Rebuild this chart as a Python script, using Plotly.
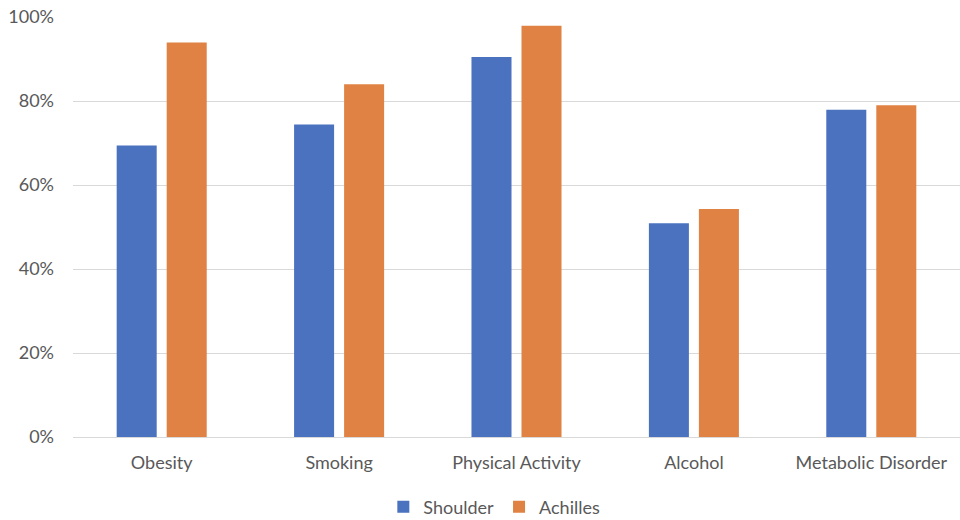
import plotly.graph_objects as go

categories = ["Obesity", "Smoking", "Physical Activity", "Alcohol", "Metabolic Disorder"]
shoulder = [69.4, 74.4, 90.5, 50.9, 77.9]
achilles = [93.9, 84.0, 97.9, 54.3, 79.0]
y_ticks = [0, 20, 40, 60, 80, 100]
y_tick_labels = [f"{v}%" for v in y_ticks]

font = "Lato, 'Open Sans', sans-serif"
fig = go.Figure()
fig.add_trace(go.Bar(x=categories, y=shoulder, name="Shoulder",
                     marker=dict(color="#4A72BF", line=dict(width=0))))
fig.add_trace(go.Bar(x=categories, y=achilles, name="Achilles",
                     marker=dict(color="#DF8243", line=dict(width=0))))

fig.update_layout(
    width=960, height=520,
    margin=dict(l=73, r=0, t=17, b=83, autoexpand=False),
    paper_bgcolor="white", plot_bgcolor="white",
    barmode="group", bargap=0.436, bargroupgap=0.2,
    font=dict(family=font, size=18, color="#595959"),
    showlegend=True,
    legend=dict(orientation="h", x=0.475, xanchor="center", y=-0.167, yanchor="middle",
                font=dict(size=18, color="#595959"), itemwidth=30, traceorder="normal"),
    xaxis=dict(showgrid=False, showline=False, ticks="", automargin=False,
               ticklabelstandoff=13, tickfont=dict(size=18, color="#595959")),
    yaxis=dict(range=[0, 100], tickvals=y_ticks, ticktext=y_tick_labels, showgrid=True,
               gridcolor="#D9D9D9", gridwidth=1, zeroline=True, zerolinecolor="#D9D9D9",
               zerolinewidth=1, showline=False, ticks="", ticklabelstandoff=18, automargin=False,
               tickfont=dict(size=18, color="#595959")),
)

fig.write_html("out.html")
